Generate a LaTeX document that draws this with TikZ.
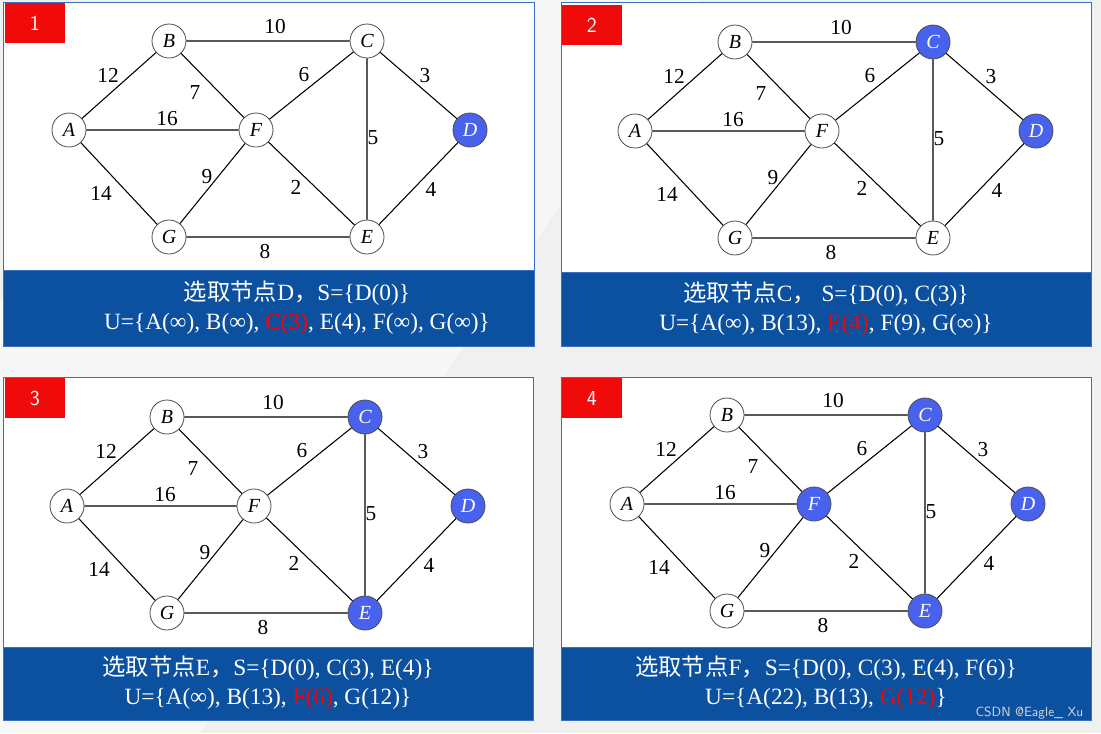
\documentclass[tikz,border=0pt]{standalone}
\usepackage{fontspec}
\setmainfont{Liberation Serif}
\newfontfamily\cjk{Noto Sans CJK SC}
\definecolor{nblue}{RGB}{72,98,238}
\definecolor{bbox}{RGB}{12,80,160}
\definecolor{frame}{RGB}{60,110,200}
\definecolor{tagred}{RGB}{240,10,10}
\tikzset{
  vtx/.style={circle,draw=black!70,line width=0.6pt,fill=white,minimum size=34*0.75pt,inner sep=0pt,font=\fontsize{15}{15}\selectfont\itshape},
  sel/.style={fill=nblue,text=white},
  edge/.style={draw=black,line width=0.8pt},
  wt/.style={font=\fontsize{16}{16}\selectfont},
  panel/.style={draw=frame,fill=white,line width=0.6pt},
  lbl/.style={fill=bbox,draw=frame},
  ltext/.style={text=white,align=center,font=\fontsize{17.5}{22}\selectfont},
  tag/.style={fill=tagred,text=white,font=\sffamily\fontsize{16}{16}\selectfont,minimum width=60*0.75pt,minimum height=40*0.75pt,inner sep=0pt}
}
\newcommand\mygraph[6]{%
\begin{scope}[shift={(#2,#3)}]
\node[vtx] (#1B) at (169,41) {B};
\node[vtx,#4] (#1C) at (367,41) {C};
\node[vtx] (#1A) at (69,130) {A};
\node[vtx,#6] (#1F) at (256,130) {F};
\node[vtx,sel] (#1D) at (470,130) {D};
\node[vtx] (#1G) at (169,237) {G};
\node[vtx,#5] (#1E) at (367,237) {E};
\draw[edge] (#1A)--(#1B) (#1B)--(#1C) (#1A)--(#1F) (#1B)--(#1F) (#1F)--(#1C) (#1C)--(#1D) (#1C)--(#1E) (#1A)--(#1G) (#1G)--(#1F) (#1F)--(#1E) (#1G)--(#1E) (#1E)--(#1D);
\node[wt] at (108,75) {12};
\node[wt] at (275,27) {10};
\node[wt] at (195,93) {7};
\node[wt] at (167,119) {16};
\node[wt] at (304,75) {6};
\node[wt] at (425,76) {3};
\node[wt] at (373,138) {5};
\node[wt] at (207,177) {9};
\node[wt] at (101,193) {14};
\node[wt] at (296,187) {2};
\node[wt] at (431,189) {4};
\node[wt] at (265,252) {8};
\end{scope}}
\begin{document}
\begin{tikzpicture}[x=0.75pt,y=-0.75pt]
\useasboundingbox (0,0) rectangle (1101,733);
\fill[black!6] (0,0) rectangle (1101,733);
\fill[black!3] (0,300) -- (400,0) -- (700,0) -- (200,733) -- (0,733) -- cycle;
% panels
\draw[panel] (3,2) rectangle (534,346);
\draw[panel] (561,2) rectangle (1091,346);
\draw[panel] (3,377) rectangle (533,720);
\draw[panel] (561,377) rectangle (1091,720);
\draw[lbl] (3,270) rectangle (534,346);
\draw[lbl] (561,272) rectangle (1091,346);
\draw[lbl] (3,647) rectangle (533,720);
\draw[lbl] (561,647) rectangle (1091,720);
\node[tag] (t1) at (35,23) {1};
\node[tag] (t2) at (592,25) {2};
\node[tag] (t3) at (35,398) {3};
\node[tag] (t4) at (592,398) {4};
\mygraph{p}{0}{0}{}{}{}
\mygraph{q}{566}{1}{sel}{}{}
\mygraph{r}{-2}{376}{sel}{sel}{}
\mygraph{s}{558}{374}{sel}{sel}{sel}
\node[ltext] (l1) at (297,308) {{\cjk 选取节点}D{\cjk ，}S=\{D(0)\}\\U=\{A(∞), B(∞), \textcolor{red}{C(3)}, E(4), F(∞), G(∞)\}};
\node[ltext] (l2) at (826,309) {{\cjk 选取节点}C{\cjk ，} S=\{D(0), C(3)\}\\U=\{A(∞), B(13), \textcolor{red}{E(4)}, F(9), G(∞)\}};
\node[ltext] (l3) at (268,683) {{\cjk 选取节点}E{\cjk ，}S=\{D(0), C(3), E(4)\}\\U=\{A(∞), B(13), \textcolor{red}{F(6)}, G(12)\}};
\node[ltext] (l4) at (826,683) {{\cjk 选取节点}F{\cjk ，}S=\{D(0), C(3), E(4), F(6)\}\\U=\{A(22), B(13), \textcolor{red}{G(12)}\}};
\node[text=white!85!black,font=\sffamily\fontsize{10}{10}\selectfont,anchor=east] (wm) at (1088,713) {CSDN @Eagle\_ Xu};
\end{tikzpicture}
\end{document}
